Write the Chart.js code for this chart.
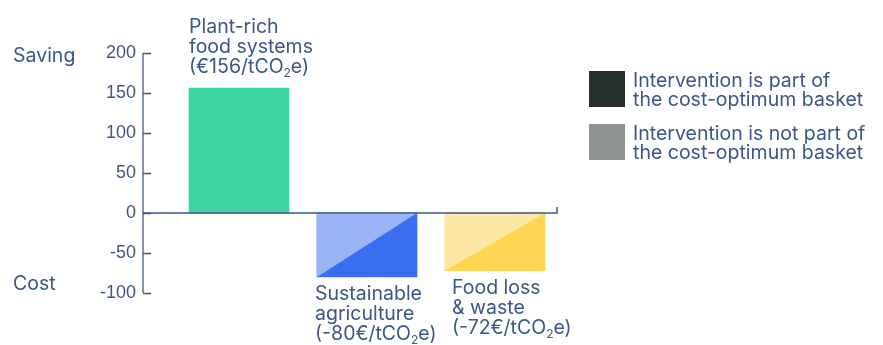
<!DOCTYPE html>
<html>
<head>
<meta charset="utf-8">
<script src="https://cdn.jsdelivr.net/npm/chart.js@4.4.1/dist/chart.umd.min.js"></script>
<style>
  html, body { margin: 0; padding: 0; background: #fff; }
</style>
</head>
<body>
<canvas id="myChart" width="883" height="345"></canvas>
<script>
// data
const categories = ['Plant-rich food systems', 'Sustainable agriculture', 'Food loss & waste'];
const costValues = [156, -80, -72];
const labelLines = [
    ['Plant-rich', 'food systems', '(€156/tCO_2e)'],
    ['Sustainable', 'agriculture', '(-80€/tCO_2e)'],
    ['Food loss', '& waste', '(-72€/tCO_2e)']
];
const axisNames = ['Saving', 'Cost'];
const legendLabels = [
    ['Intervention is part of', 'the cost-optimum basket'],
    ['Intervention is not part of', 'the cost-optimum basket']
];

// styles
const barColors = ['#3dd6a0', '#3a6ef0', '#ffd654'];
const lightColors = [null, '#9bb4f4', '#fde8a4'];
const legendColors = ['#25302e', '#8f9493'];
const labelOffsets = [0, -2, 7];
const textColor = '#3b5787';
const FONT = 'Inter, "Noto Sans", sans-serif';
const TXT = 19.5;

function drawRich(c, text, x, y, size) {
    const parts = text.split(/_(\d)/);
    let cx = x;
    parts.forEach((p, i) => {
        const sub = i % 2 === 1;
        c.font = (sub ? Math.round(size * 0.62) : size) + 'px ' + FONT;
        c.fillText(p, cx, sub ? y + size * 0.22 : y);
        cx += c.measureText(p).width;
    });
}

const decor = {
    id: 'decor',
    afterDatasetsDraw(chart) {
        const c = chart.ctx;
        const y = chart.scales.y;
        const area = chart.chartArea;
        const bars = chart.getDatasetMeta(0).data;
        c.save();

        // light half of the "not in basket" bars
        bars.forEach((b, i) => {
            if (!lightColors[i]) return;
            const left = b.x - b.width / 2, right = b.x + b.width / 2;
            const top = Math.min(b.y, b.base), bottom = Math.max(b.y, b.base);
            c.fillStyle = lightColors[i];
            c.beginPath();
            c.moveTo(left, top);
            c.lineTo(right, top);
            c.lineTo(left, bottom);
            c.closePath();
            c.fill();
        });

        // y axis, drawn left of the bars
        const axisX = area.left - 32;
        c.strokeStyle = '#5d7199';
        c.lineWidth = 1.5;
        c.beginPath();
        c.moveTo(axisX, y.getPixelForValue(200));
        c.lineTo(axisX, y.getPixelForValue(-100));
        c.stroke();
        c.strokeStyle = textColor;
        y.ticks.forEach(t => {
            const py = Math.round(y.getPixelForValue(t.value)) + 0.5;
            c.beginPath();
            c.moveTo(axisX, py);
            c.lineTo(axisX + 8, py);
            c.stroke();
        });

        // zero line
        const zy = y.getPixelForValue(0);
        c.beginPath();
        c.moveTo(axisX, zy);
        c.lineTo(area.right - 2, zy);
        c.lineTo(area.right - 2, zy - 6);
        c.stroke();

        // bar labels
        c.fillStyle = textColor;
        c.textAlign = 'left';
        c.textBaseline = 'alphabetic';
        bars.forEach((b, i) => {
            const x = b.x - b.width / 2 + labelOffsets[i];
            const lines = labelLines[i];
            const start = costValues[i] >= 0 ? b.y - 55 : b.y + 23;
            lines.forEach((ln, k) => drawRich(c, ln, x, start + k * 20, TXT));
        });

        // axis names
        c.font = TXT + 'px ' + FONT;
        c.fillText(axisNames[0], 13, 62);
        c.fillText(axisNames[1], 13, 290);

        // legend
        legendLabels.forEach((lines, i) => {
            const top = 71 + i * 53;
            c.fillStyle = legendColors[i];
            c.fillRect(589, top, 36, 36);
            c.fillStyle = textColor;
            c.font = TXT + 'px ' + FONT;
            lines.forEach((ln, k) => c.fillText(ln, 633, top + 16 + k * 19));
        });

        c.restore();
    }
};

const ctx = document.getElementById('myChart');

new Chart(ctx, {
    type: 'bar',
    data: {
        labels: categories,
        datasets: [{
            data: costValues,
            backgroundColor: barColors,
            barThickness: 100,
            borderWidth: 0
        }]
    },
    options: {
        responsive: false,
        animation: false,
        layout: {
            padding: { top: 53, bottom: 52, left: 0, right: 324 }
        },
        plugins: {
            legend: { display: false },
            tooltip: { enabled: false }
        },
        scales: {
            x: { display: false, offset: true },
            y: {
                min: -100,
                max: 200,
                ticks: {
                    stepSize: 50,
                    padding: 39,
                    color: textColor,
                    font: { family: '"Liberation Sans", Arial, sans-serif', size: 18 }
                },
                grid: { display: false, drawTicks: false },
                border: { display: false },
                afterFit(scale) { scale.width = 175; }
            }
        }
    },
    plugins: [decor]
});
</script>
</body>
</html>
